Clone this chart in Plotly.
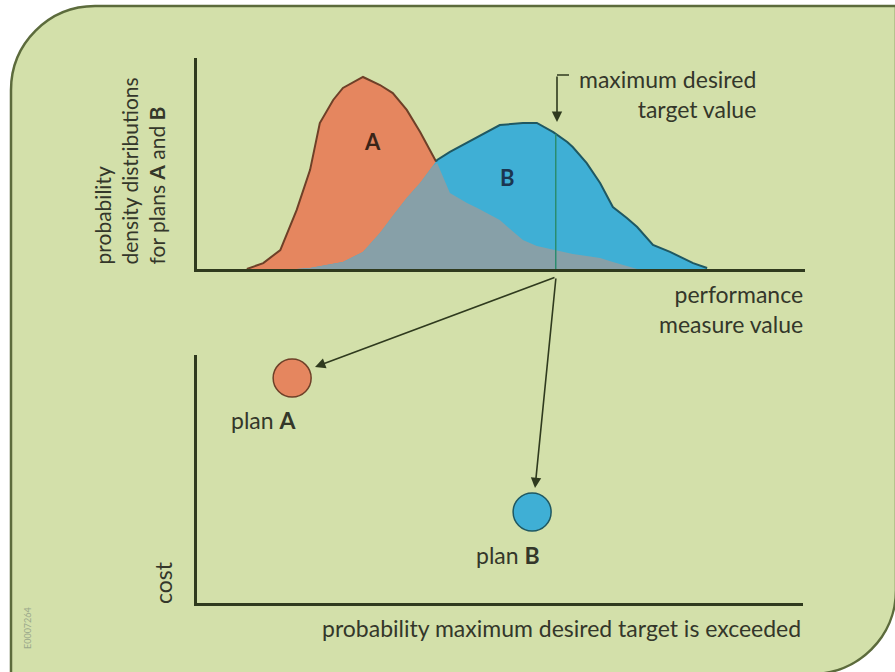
import numpy as np
import plotly.graph_objects as go

W, H = 895, 672

# ---- data: top chart (probability density vs performance measure value) ----
perf = [8.2, 10.9, 13.7, 16.4, 18.6, 20.2, 22.4, 24.0, 27.3, 30.1, 32.2, 34.5, 36.7,
        38.8, 39.5, 41.6, 44.4, 46.1, 49.8, 53.6, 55.9, 58.6, 60.9, 61.8, 64.1, 66.3,
        68.4, 70.7, 72.4, 75.0, 77.8, 81.6, 83.9]
densA = [0, 2.8, 9.0, 28.0, 47.0, 69.2, 80.1, 85.8, 91.0, 87.2, 83.4, 75.4, 64.9,
         53.1, 50.2, 36.0, 31.3, 28.9, 23.2, 13.7, 10.9, 9.0, 7.6, 7.1, 6.2, 5.2,
         3.3, 1.4, 0, 0, 0, 0, 0]
densB = [0, 0, 0, 0, 0.5, 1.4, 2.4, 3.3, 8.1, 17.1, 25.1, 33.6, 40.8,
         48.8, 51.7, 55.5, 59.7, 62.6, 68.2, 69.2, 69.2, 64.9, 60.2, 57.8, 50.2, 40.8,
         29.4, 24.2, 19.9, 11.4, 8.1, 2.8, 0.5]
target_value = 59.0

# ---- data: bottom chart (cost vs probability target exceeded) ----
plans = ["A", "B"]
exceed_prob = [15.7, 55.3]
cost = [90.7, 36.7]

# ---- styling ----
ORANGE = "#e5865f"
BLUE = "#3fafd5"
GREY = "#87a0a8"
A_EDGE = "#6e4028"
B_EDGE = "#1f5862"
GREEN = "#2a8c6e"
AXIS = "#2f3a1e"
TXT = "#34372a"
PANEL = "#d3e0aa"
BORDER = "#5c6b3c"
FONT = "Lato"
FS = 23


def X(p):
    return p / W


def Y(p):
    return 1 - p / H


x = np.array(perf)
a = np.array(densA)
b = np.array(densB)
d = a - b
i = int(np.where((d[:-1] > 0) & (d[1:] <= 0))[0][0])
t = d[i] / (d[i] - d[i + 1])
xc = x[i] + t * (x[i + 1] - x[i])
yc = a[i] + t * (a[i + 1] - a[i])

fig = go.Figure()
fig.add_trace(go.Scatter(x=perf, y=densA, fill="tozeroy", fillcolor=ORANGE,
                         mode="lines", line=dict(width=0), hoverinfo="skip"))
fig.add_trace(go.Scatter(x=perf, y=densB, fill="tozeroy", fillcolor=BLUE,
                         mode="lines", line=dict(width=0), hoverinfo="skip"))
fig.add_trace(go.Scatter(x=perf, y=np.minimum(a, b), fill="tozeroy", fillcolor=GREY,
                         mode="lines", line=dict(width=0), hoverinfo="skip"))
fig.add_trace(go.Scatter(x=list(x[:i + 1]) + [xc], y=list(a[:i + 1]) + [yc],
                         mode="lines", line=dict(color=A_EDGE, width=2), hoverinfo="skip"))
fig.add_trace(go.Scatter(x=[xc] + list(x[i + 1:]), y=[yc] + list(b[i + 1:]),
                         mode="lines", line=dict(color=B_EDGE, width=2), hoverinfo="skip"))
fig.add_trace(go.Scatter(x=[target_value, target_value],
                         y=[0, float(np.interp(target_value, perf, densB))],
                         mode="lines", line=dict(color=GREEN, width=1.5), hoverinfo="skip"))

fig.add_trace(go.Scatter(x=exceed_prob, y=cost, xaxis="x2", yaxis="y2", mode="markers",
                         marker=dict(size=38, color=[ORANGE, BLUE],
                                     line=dict(color=[A_EDGE, B_EDGE], width=1.5)),
                         hoverinfo="skip"))

# ---- panel ----
k = 0.5523
L, T, R, B = 11, 6, 896, 674
r1, r2 = 84, 84
pts = [
    ("M", [(L, T + r1)]),
    ("C", [(L, T + r1 - k * r1), (L + r1 - k * r1, T), (L + r1, T)]),
    ("L", [(R, T)]),
    ("L", [(R, B - r2)]),
    ("C", [(R, B - r2 + k * r2), (R - r2 + k * r2, B), (R - r2, B)]),
    ("L", [(L, B)]),
]
path = ""
for cmd, ps in pts:
    path += cmd + " " + " ".join(f"{X(px):.5f},{Y(py):.5f}" for px, py in ps) + " "
path += "Z"

shapes = [
    dict(type="path", xref="paper", yref="paper", path=path, fillcolor=PANEL,
         line=dict(color=BORDER, width=2.5), layer="below"),
    dict(type="line", xref="paper", yref="paper", x0=X(557), y0=Y(75), x1=X(569), y1=Y(75),
         line=dict(color=AXIS, width=1.5)),
]

ann = []


def text(px, py, s, size=FS, xanchor="center", yanchor="middle", align="center",
         angle=0, color=TXT):
    ann.append(dict(x=X(px), y=Y(py), xref="paper", yref="paper", text=s, showarrow=False,
                    xanchor=xanchor, yanchor=yanchor, align=align, textangle=angle,
                    font=dict(family=FONT, size=size, color=color)))


def arrow(tipx, tipy, tailx, taily):
    ann.append(dict(x=X(tipx), y=Y(tipy), xref="paper", yref="paper", text="",
                    showarrow=True, ax=tailx - tipx, ay=taily - tipy,
                    arrowhead=2, arrowsize=1.3, arrowwidth=1.6, arrowcolor=AXIS))


text(129, 267, "probability<br>density distributions<br>for plans <b>A</b> and <b>B</b>",
     size=21, yanchor="bottom", align="left", angle=-90)
text(758, 94, "maximum desired<br>target value", xanchor="right", align="right")
text(805, 309, "performance<br>measure value", xanchor="right", align="right")
text(163, 583, "cost", angle=-90)
text(803, 628, "probability maximum desired target is exceeded", xanchor="right")
text(263, 420, "plan <b>A</b>")
text(508, 555, "plan <b>B</b>")
ann.append(dict(x=28.8, y=60.2, xref="x", yref="y", text="<b>A</b>", showarrow=False,
                font=dict(family=FONT, size=22, color="#3a2418")))
ann.append(dict(x=51.0, y=43.6, xref="x", yref="y", text="<b>B</b>", showarrow=False,
                font=dict(family=FONT, size=22, color="#1b3550")))
text(27, 628, "E0007264", size=9, angle=-90, color="#9aa88a")

arrow(557, 122, 557, 75)
arrow(315, 367, 556, 277)
arrow(535, 488, 556, 277)

axis_common = dict(showline=True, linecolor=AXIS, linewidth=2.5, showticklabels=False,
                   showgrid=False, zeroline=False, ticks="", range=[0, 100], fixedrange=True)

fig.update_layout(
    width=W, height=H, margin=dict(l=0, r=0, t=0, b=0),
    paper_bgcolor="white", plot_bgcolor="rgba(0,0,0,0)", showlegend=False,
    xaxis=dict(domain=[X(197), X(805)], anchor="y", **axis_common),
    yaxis=dict(domain=[Y(269), Y(58)], anchor="x", **axis_common),
    xaxis2=dict(domain=[X(197), X(803)], anchor="y2", **axis_common),
    yaxis2=dict(domain=[Y(603), Y(355)], anchor="x2", **axis_common),
    shapes=shapes, annotations=ann,
)

fig.write_html("out.html", config={"displayModeBar": False},
               post_script="document.body.style.margin='0';")
